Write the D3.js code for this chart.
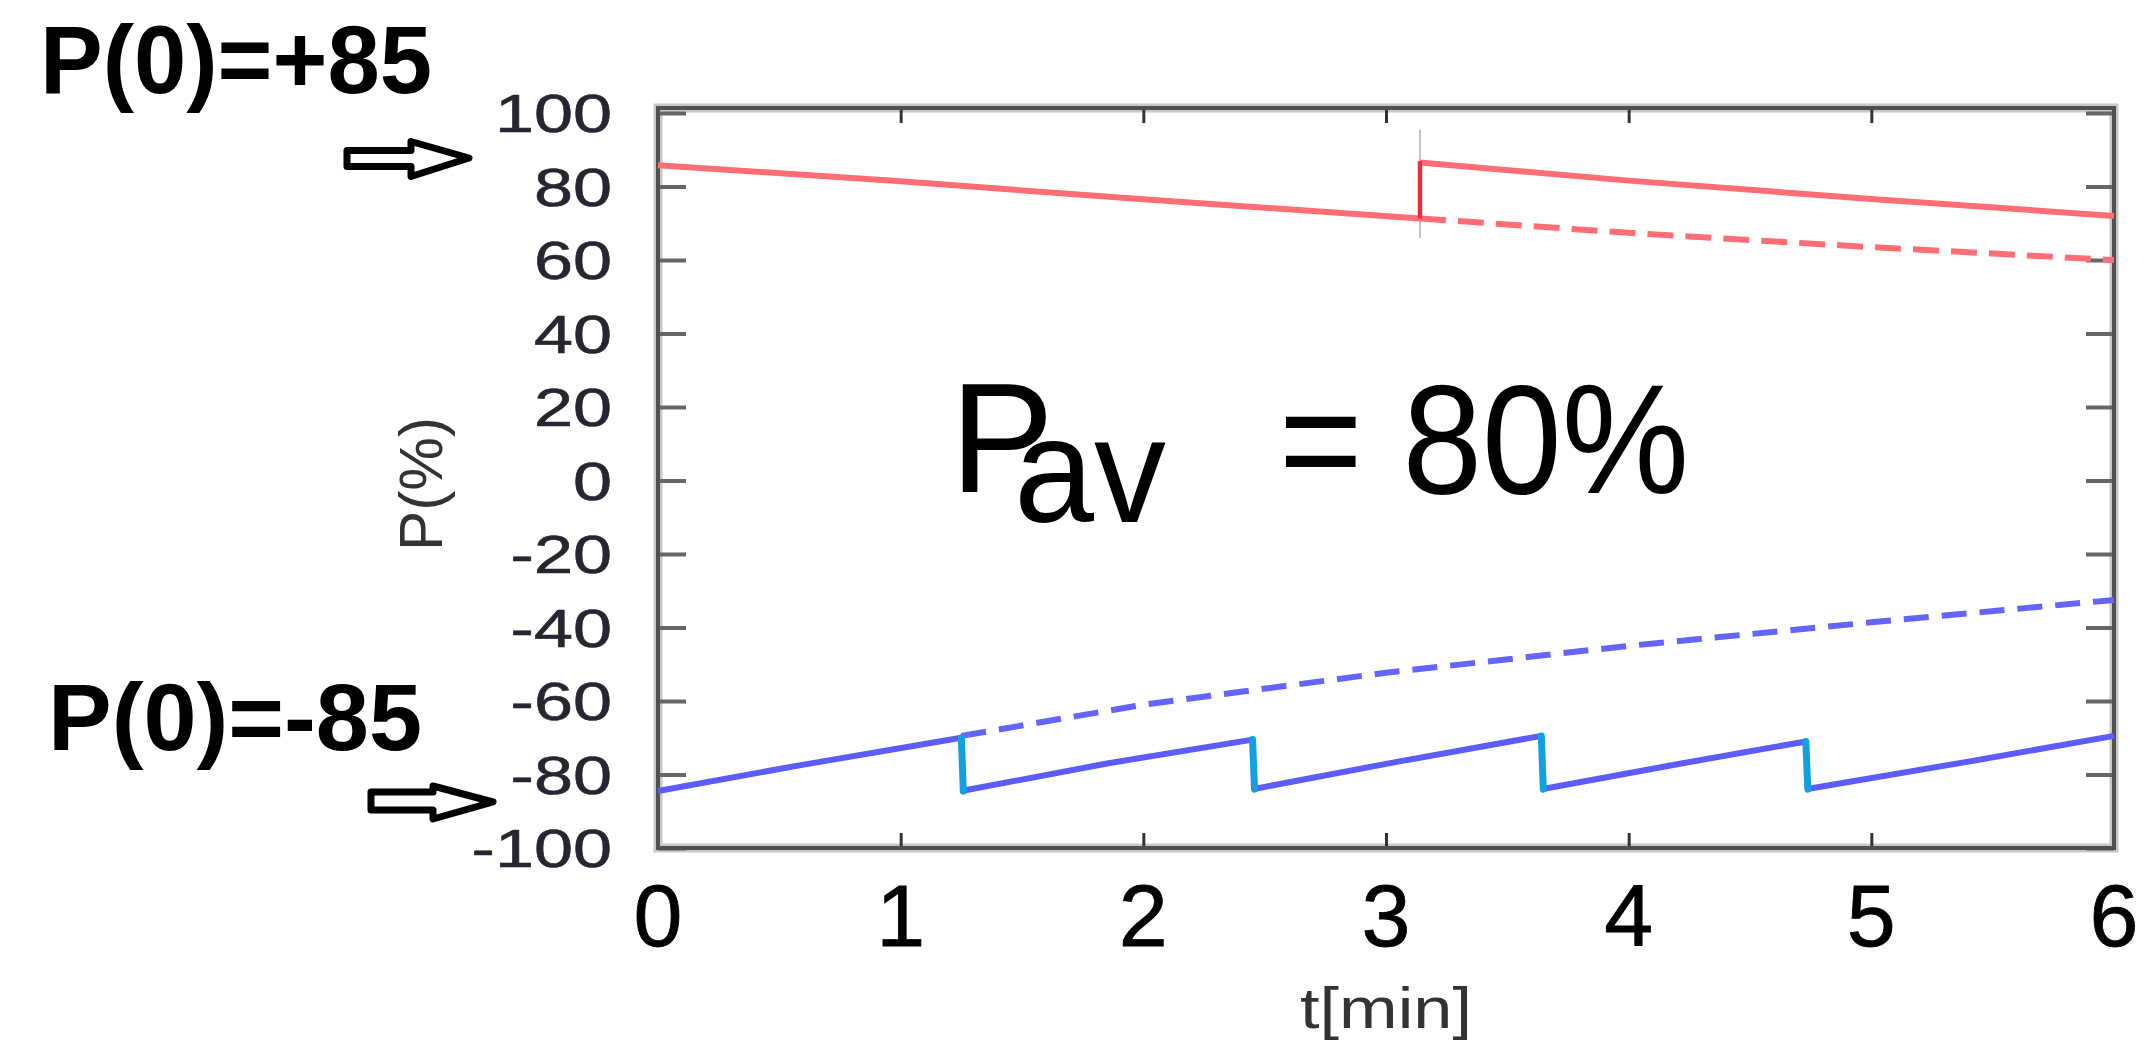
<!DOCTYPE html>
<html>
<head>
<meta charset="utf-8">
<script src="https://cdn.jsdelivr.net/npm/d3@7/dist/d3.min.js"></script>
<style>
  body { margin: 0; background: #fff; }
  text { font-family: "Liberation Sans", Arial, sans-serif; }
</style>
</head>
<body>
<script>
let width = 2146,
  height = 1040;

// tick values
const xTicks = [0, 1, 2, 3, 4, 5, 6];
const yTicks = [100, 80, 60, 40, 20, 0, -20, -40, -60, -80, -100];

// red trace, P(0)=+85  (t in min, P in %)
const redSolidA = [[0, 85.8], [1, 81.4], [2, 76.5], [3.14, 71.3]];
const redJump = [[3.14, 71.3], [3.14, 86.9]];
const redSolidB = [[3.14, 86.5], [4, 81.6], [5, 76.6], [6, 72]];
const redDashed = [[3.14, 71.3], [4, 67.4], [5, 63.5], [6, 60]];

// blue trace, P(0)=-85
const blueJumpT = [1.25, 2.45, 3.64, 4.73];
const blueJumpTop = [-70, -70.5, -69.5, -71];
const blueJumpBottom = [-84.5, -84, -84, -84];
const blueSegments = [
  [[0, -84.5], [0.6, -77.3], [1.25, -70]],
  [[1.25, -84.5], [1.85, -77], [2.45, -70.5]],
  [[2.45, -84], [3.05, -76.5], [3.64, -69.5]],
  [[3.64, -84], [4.2, -77.2], [4.73, -71]],
  [[4.73, -84], [5.4, -76.5], [6, -69.5]]
];
const blueDashed = [[1.25, -69.5], [2, -61], [3, -52.3], [4, -45], [5, -38.6], [6, -32.5]];

let svg = d3.select("body").append("svg")
  .attr("width", width)
  .attr("height", height);

svg.append("rect").attr("width", width).attr("height", height).attr("fill", "#fff");

let x = d3.scaleLinear().domain([0, 6]).range([658, 2114]);
let y = d3.scaleLinear().domain([-100, 100]).range([848, 113]);
let frameTop = 108;

let line = d3.line().x(d => x(d[0])).y(d => y(d[1]));

// text squeezed / stretched sideways like the scanned figure
function stretched(parent, str, tx, ty, size, sx, anchor) {
  return parent.append("text")
    .attr("transform", `translate(${tx},${ty}) scale(${sx},1)`)
    .attr("text-anchor", anchor)
    .attr("font-size", size)
    .text(str);
}

// frame
svg.append("rect")
  .attr("x", x(0)).attr("y", frameTop)
  .attr("width", x(6) - x(0)).attr("height", y(-100) - frameTop)
  .attr("fill", "none").attr("stroke", "#c8c8c8").attr("stroke-width", 9);

// inner ticks
svg.append("g").attr("transform", `translate(${x(0)},0)`)
  .call(d3.axisLeft(y).tickValues(yTicks).tickSize(-28).tickFormat(""))
  .call(g => g.select(".domain").remove())
  .selectAll("line").attr("stroke", "#666").attr("stroke-width", 4);
svg.append("g").attr("transform", `translate(${x(6)},0)`)
  .call(d3.axisRight(y).tickValues(yTicks).tickSize(-28).tickFormat(""))
  .call(g => g.select(".domain").remove())
  .selectAll("line").attr("stroke", "#666").attr("stroke-width", 4);
svg.append("g").attr("transform", `translate(0,${y(-100)})`)
  .call(d3.axisBottom(x).tickValues(xTicks).tickSize(-15).tickFormat(""))
  .call(g => g.select(".domain").remove())
  .selectAll("line").attr("stroke", "#333").attr("stroke-width", 3);
svg.append("g").attr("transform", `translate(0,${frameTop})`)
  .call(d3.axisTop(x).tickValues(xTicks).tickSize(-15).tickFormat(""))
  .call(g => g.select(".domain").remove())
  .selectAll("line").attr("stroke", "#333").attr("stroke-width", 3);

svg.append("rect")
  .attr("x", x(0)).attr("y", frameTop)
  .attr("width", x(6) - x(0)).attr("height", y(-100) - frameTop)
  .attr("fill", "none").attr("stroke", "#505050").attr("stroke-width", 4);

// y tick labels
let yl = svg.append("g").attr("fill", "#262632")
  .attr("stroke", "#262632").attr("stroke-width", 0.6);
yTicks.forEach(v => {
  stretched(yl, v, 612, y(v) + 19, 54, 1.3, "end");
});

// x tick labels
let xl = svg.append("g").attr("fill", "#000")
  .attr("stroke", "#000").attr("stroke-width", 0.8);
xTicks.forEach(v => {
  xl.append("text")
    .attr("x", x(v)).attr("y", 946)
    .attr("text-anchor", "middle")
    .attr("font-size", 88)
    .text(v);
});

// axis titles
svg.append("text")
  .attr("x", 1386).attr("y", 1028)
  .attr("text-anchor", "middle")
  .attr("font-size", 58)
  .attr("fill", "#333")
  .attr("textLength", 172).attr("lengthAdjust", "spacingAndGlyphs")
  .text("t[min]");

svg.append("text")
  .attr("transform", "translate(442,484) rotate(-90)")
  .attr("text-anchor", "middle")
  .attr("font-size", 62)
  .attr("fill", "#333")
  .attr("textLength", 134).attr("lengthAdjust", "spacingAndGlyphs")
  .text("P(%)");

// faint marker at the red reset
svg.append("line")
  .attr("x1", x(3.14)).attr("x2", x(3.14))
  .attr("y1", y(95.5)).attr("y2", y(66))
  .attr("stroke", "#b0b0b0").attr("stroke-width", 1.5);

// red curves
svg.append("path").datum(redDashed).attr("d", line)
  .attr("fill", "none").attr("stroke", "#ff6e74").attr("stroke-width", 6)
  .attr("stroke-dasharray", "26,12");
[redSolidA, redSolidB].forEach(seg => {
  svg.append("path").datum(seg).attr("d", line)
    .attr("fill", "none").attr("stroke", "#ff6e74").attr("stroke-width", 6);
});
svg.append("path").datum(redJump).attr("d", line)
  .attr("fill", "none").attr("stroke", "#e8303c").attr("stroke-width", 4.5);

// blue curves
svg.append("path").datum(blueDashed).attr("d", line)
  .attr("fill", "none").attr("stroke", "#6464ff").attr("stroke-width", 6)
  .attr("stroke-dasharray", "25,13");
blueSegments.forEach(seg => {
  svg.append("path").datum(seg).attr("d", line)
    .attr("fill", "none").attr("stroke", "#5c5cff").attr("stroke-width", 6);
});
blueJumpT.forEach((t, i) => {
  svg.append("line")
    .attr("x1", x(t)).attr("x2", x(t) + 2)
    .attr("y1", y(blueJumpTop[i])).attr("y2", y(blueJumpBottom[i]))
    .attr("stroke", "#12a0e0").attr("stroke-width", 7)
    .attr("stroke-linecap", "round");
});

// average polarisation label (one text, subscript as a tspan)
let pav = svg.append("text").attr("fill", "#000").attr("font-size", 156);
pav.append("tspan").attr("x", 950).attr("y", 492).text("P");
pav.append("tspan").attr("x", 1014).attr("y", 522).attr("font-size", 150)
  .attr("textLength", 152).attr("lengthAdjust", "spacingAndGlyphs").text("av");
pav.append("tspan").attr("x", 1279).attr("y", 493)
  .attr("textLength", 410).attr("lengthAdjust", "spacingAndGlyphs").text("= 80%");

// initial value annotations
svg.append("text").attr("x", 40).attr("y", 93)
  .attr("font-size", 96).attr("font-weight", "bold")
  .attr("textLength", 392).attr("lengthAdjust", "spacingAndGlyphs")
  .text("P(0)=+85");
svg.append("text").attr("x", 48).attr("y", 750)
  .attr("font-size", 94).attr("font-weight", "bold")
  .attr("textLength", 374).attr("lengthAdjust", "spacingAndGlyphs")
  .text("P(0)=-85");

let arrows = [
  "M347,150.5 L411,150.5 L411,141.5 L469,158 L411,176.5 L411,166.5 L347,166.5 Z",
  "M371,792 L433,792 L433,786 L493,802 L433,819 L433,810 L371,810 Z"
];
svg.selectAll(".arrow").data(arrows).enter().append("path")
  .attr("class", "arrow")
  .attr("d", d => d)
  .attr("fill", "#fff").attr("stroke", "#000")
  .attr("stroke-width", 7).attr("stroke-linejoin", "round");
</script>
</body>
</html>
